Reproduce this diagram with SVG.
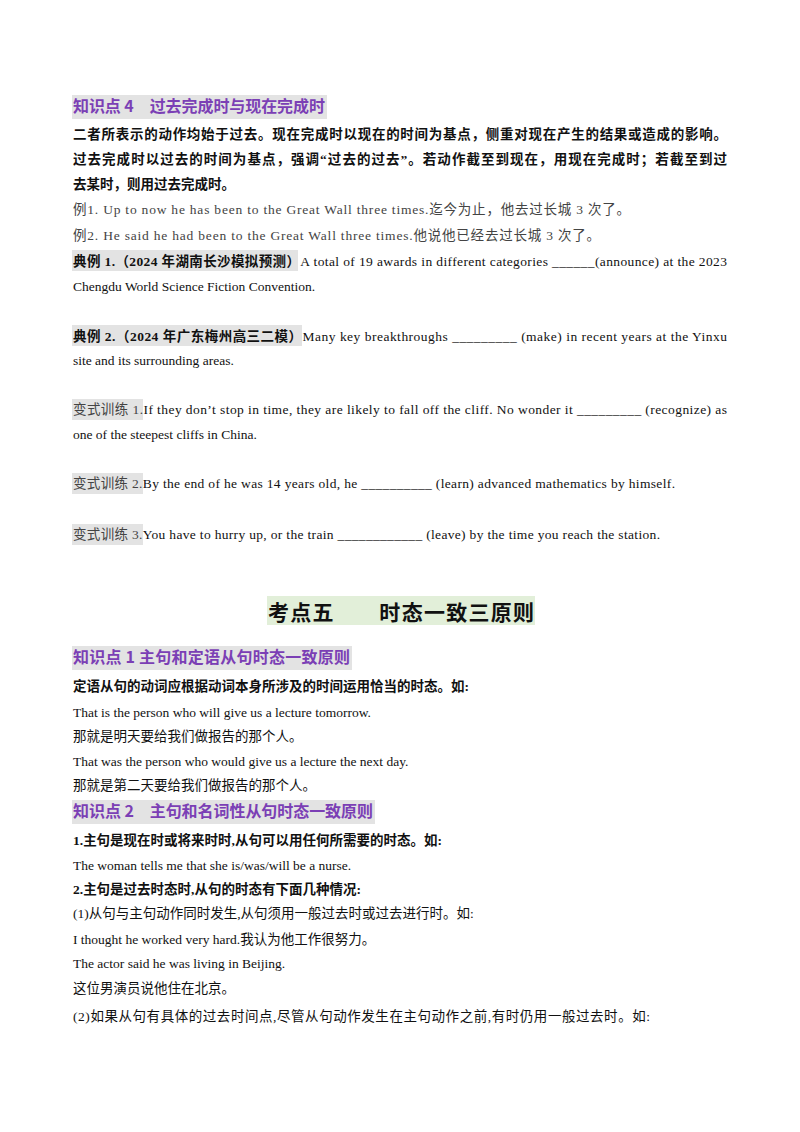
<svg xmlns="http://www.w3.org/2000/svg" width="800" height="1132" viewBox="0 0 800 1132">
<style>
text{font-family:"Liberation Serif","Noto Sans CJK SC",serif;font-size:13.5px;fill:#111}
.h{font-family:"Noto Sans CJK SC",sans-serif;font-weight:bold;font-size:16px;fill:#7b3fb5}
.b{font-weight:bold}
.g{fill:#444}
.bg{fill:#e3e3e3}
</style>
<rect width="800" height="1132" fill="#fff"/>
<g id="sec4">
<rect class="bg" x="72" y="95" width="255" height="24"/>
<text class="h" x="73" y="112" textLength="252">知识点 4　过去完成时与现在完成时</text>
<text class="b" x="73" y="139" textLength="654">二者所表示的动作均始于过去。现在完成时以现在的时间为基点，侧重对现在产生的结果或造成的影响。</text>
<text class="b" x="73" y="164" textLength="654">过去完成时以过去的时间为基点，强调“过去的过去”。若动作截至到现在，用现在完成时；若截至到过</text>
<text class="b" x="73" y="189">去某时，则用过去完成时。</text>
<text class="g" x="73" y="214" textLength="557">例1. Up to now he has been to the Great Wall three times.迄今为止，他去过长城 3 次了。</text>
<text class="g" x="73" y="240" textLength="527">例2. He said he had been to the Great Wall three times.他说他已经去过长城 3 次了。</text>
<rect class="bg" x="72" y="250" width="226" height="21"/>
<text x="73" y="266" textLength="654"><tspan class="b">典例 1.（2024 年湖南长沙模拟预测）</tspan>A total of 19 awards in different categories  ______(announce) at the 2023</text>
<text x="73" y="291">Chengdu World Science Fiction Convention.</text>
<rect class="bg" x="72" y="325" width="230" height="21"/>
<text x="73" y="341" textLength="654"><tspan class="b">典例 2.（2024 年广东梅州高三二模）</tspan>Many key breakthroughs  _________  (make) in recent years at the Yinxu</text>
<text x="73" y="365">site and its surrounding areas.</text>
<rect class="bg" x="72" y="399" width="71" height="21"/>
<text x="73" y="414" textLength="654"><tspan class="g">变式训练 1.</tspan>If they don’t stop in time, they are likely  to  fall  off the cliff. No wonder it  _________  (recognize) as</text>
<text x="73" y="439">one of the steepest cliffs in China.</text>
<rect class="bg" x="72" y="473" width="71" height="21"/>
<text x="73" y="488" textLength="602"><tspan class="g">变式训练 2.</tspan>By the end of he was 14 years old, he  __________  (learn) advanced mathematics by himself.</text>
<rect class="bg" x="72" y="524" width="71" height="21"/>
<text x="73" y="539" textLength="587"><tspan class="g">变式训练 3.</tspan>You have to hurry up, or the train  ____________  (leave) by the time you reach the station.</text>
</g>
<g id="sec5">
<rect x="267" y="596" width="268" height="29" fill="#e2efd9"/>
<text x="268" y="620" textLength="266" style="font-family:'Noto Sans CJK SC',sans-serif;font-weight:bold;font-size:21px">考点五　　时态一致三原则</text>
<rect class="bg" x="72" y="646" width="280" height="24"/>
<text class="h" x="73" y="663" textLength="277">知识点 1  主句和定语从句时态一致原则</text>
<text class="b" x="73" y="691">定语从句的动词应根据动词本身所涉及的时间运用恰当的时态。如:</text>
<text x="73" y="717">That is the person who will give us a lecture tomorrow.</text>
<text x="73" y="741">那就是明天要给我们做报告的那个人。</text>
<text x="73" y="766">That was the person who would give us a lecture the next day.</text>
<text x="73" y="790">那就是第二天要给我们做报告的那个人。</text>
<rect class="bg" x="72" y="800" width="303" height="24"/>
<text class="h" x="73" y="817" textLength="300">知识点 2　主句和名词性从句时态一致原则</text>
<text class="b" x="73" y="845">1.主句是现在时或将来时时,从句可以用任何所需要的时态。如:</text>
<text x="73" y="870">The woman tells me that she is/was/will be a nurse.</text>
<text class="b" x="73" y="894">2.主句是过去时态时,从句的时态有下面几种情况:</text>
<text x="73" y="918">(1)从句与主句动作同时发生,从句须用一般过去时或过去进行时。如:</text>
<text x="73" y="944">I thought he worked very hard.我认为他工作很努力。</text>
<text x="73" y="968">The actor said he was living in Beijing.</text>
<text x="73" y="993">这位男演员说他住在北京。</text>
<text x="73" y="1021" textLength="577">(2)如果从句有具体的过去时间点,尽管从句动作发生在主句动作之前,有时仍用一般过去时。如:</text>
</g>
</svg>
